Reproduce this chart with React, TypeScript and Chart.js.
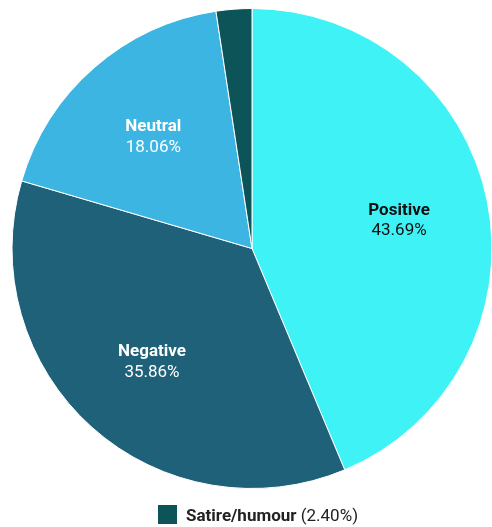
import React, { useEffect, useRef } from "react";
import { Chart, registerables } from "chart.js";

Chart.register(...registerables);

const categories = ["Positive", "Negative", "Neutral", "Satire/humour"];
const shares = [43.69, 35.86, 18.06, 2.4];
const colors = ["#3EF2F6", "#1F6179", "#3DB5E3", "#0D5459"];
const labelColors = ["#111111", "#FFFFFF", "#FFFFFF", "#FFFFFF"];
const showInside = [true, true, true, false];

const sliceLabels = {
  id: "sliceLabels",
  afterDatasetsDraw(chart: any) {
    const ctx = chart.ctx;
    const meta = chart.getDatasetMeta(0);
    meta.data.forEach((arc: any, i: number) => {
      if (!showInside[i]) return;
      const { x, y, startAngle, endAngle, outerRadius } = arc.getProps(
        ["x", "y", "startAngle", "endAngle", "outerRadius"],
        true
      );
      const mid = (startAngle + endAngle) / 2;
      const d = outerRadius * 0.625;
      const cx = x + Math.cos(mid) * d;
      const cy = y + Math.sin(mid) * d;
      ctx.save();
      ctx.textAlign = "center";
      ctx.textBaseline = "middle";
      ctx.fillStyle = labelColors[i];
      ctx.font = "bold 17px Roboto";
      ctx.fillText(categories[i], cx, cy - 8.5);
      ctx.font = "17px Roboto";
      ctx.fillText(shares[i].toFixed(2) + "%", cx, cy + 12);
      ctx.restore();
    });
  },
};

export default function App() {
  const ref = useRef<HTMLCanvasElement | null>(null);
  useEffect(() => {
    if (!ref.current) return;
    const chart = new Chart(ref.current, {
      type: "pie",
      data: {
        labels: categories,
        datasets: [
          {
            data: shares,
            backgroundColor: colors,
            borderColor: "#FFFFFF",
            borderWidth: 1,
          },
        ],
      },
      options: {
        animation: false,
        responsive: true,
        maintainAspectRatio: false,
        layout: { padding: { top: 8, bottom: 38, left: 0, right: 0 } },
        plugins: {
          legend: { display: false },
          tooltip: { enabled: false },
        },
      },
      plugins: [sliceLabels],
    });
    return () => chart.destroy();
  }, []);

  return (
    <div
      style={{
        position: "fixed",
        left: 0,
        top: 0,
        width: 492,
        height: 527,
        overflow: "hidden",
        background: "#fff",
        fontFamily: "Roboto",
      }}
    >
      <div style={{ position: "absolute", left: 0, top: 0, width: 504, height: 527 }}>
        <canvas ref={ref} />
      </div>
      <div
        style={{
          position: "absolute",
          left: 158,
          top: 505,
          height: 19,
          display: "flex",
          alignItems: "center",
          fontSize: 17,
          color: "#222",
          whiteSpace: "nowrap",
        }}
      >
        <span
          style={{
            display: "inline-block",
            width: 19,
            height: 19,
            background: colors[3],
            marginRight: 9,
          }}
        />
        <span style={{ fontWeight: "bold" }}>{categories[3]}</span>
        <span>&nbsp;({shares[3].toFixed(2)}%)</span>
      </div>
    </div>
  );
}
